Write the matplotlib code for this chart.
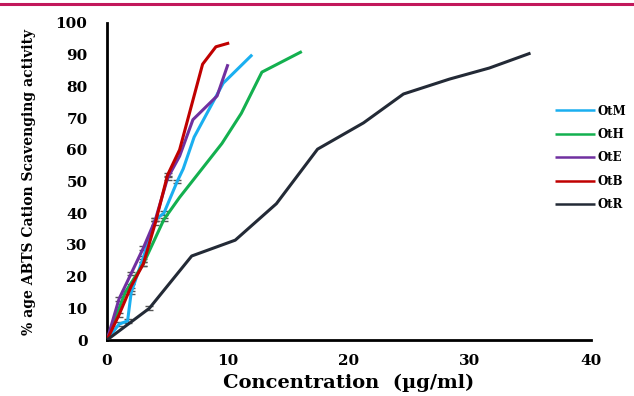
import numpy as np
import matplotlib.pyplot as plt
from matplotlib.lines import Line2D

# data
otm_x = [0, 1.0, 1.7, 2.0, 3.0, 4.0, 4.7, 5.8, 6.3, 7.2, 9.6, 12.0]
otm_y = [0, 5.0, 6.0, 15.0, 26.0, 38.0, 40.0, 50.0, 54.0, 64.0, 81.0, 90.0]
oth_x = [0, 1.5, 3.0, 4.7, 6.0, 9.5, 11.1, 12.8, 16.1]
oth_y = [0, 15.0, 24.0, 38.0, 45.0, 62.0, 71.5, 84.5, 91.0]
ote_x = [0, 1.0, 2.0, 3.0, 4.0, 5.0, 6.0, 7.1, 9.1, 10.0]
ote_y = [0, 13.0, 21.0, 29.0, 38.0, 51.0, 58.0, 69.5, 77.0, 87.0]
otb_x = [0, 1.0, 2.0, 3.0, 4.0, 5.0, 6.0, 7.9, 9.0, 10.1]
otb_y = [0, 8.0, 17.0, 24.0, 37.0, 52.0, 60.0, 87.0, 92.5, 93.7]
otr_x = [0, 3.5, 7.0, 10.6, 14.0, 17.4, 21.2, 24.5, 28.3, 31.6, 35.0]
otr_y = [0, 10.0, 26.5, 31.5, 43.0, 60.2, 68.5, 77.6, 82.3, 85.8, 90.5]

series = [
    ('OtM', otm_x, otm_y, '#1aaff0'),
    ('OtH', oth_x, oth_y, '#13b04f'),
    ('OtE', ote_x, ote_y, '#7030a0'),
    ('OtB', otb_x, otb_y, '#c00000'),
    ('OtR', otr_x, otr_y, '#232a36'),
]

plt.rcParams['font.family'] = ['DejaVu Serif']
plt.rcParams['font.weight'] = 'bold'

fig = plt.figure(figsize=(6.34, 3.96), dpi=100)
ax = fig.add_axes([107 / 634, 1 - 340 / 396, (591 - 107) / 634, (340 - 23) / 396])

# pink rule at the top of the figure
fig.add_artist(Line2D([0, 1], [1 - 4 / 396, 1 - 4 / 396], color='#c2185b', lw=2.2))

for name, xs, ys, col in series:
    ax.plot(xs, ys, color=col, lw=2.2, label=name, solid_capstyle='butt', zorder=3)
    # small error bars only at the low concentration points
    ex = [x for x in xs[1:] if x < 6]
    ey = [y for x, y in zip(xs[1:], ys[1:]) if x < 6]
    ax.errorbar(ex, ey, yerr=0.6, fmt='none', ecolor='#555555',
                elinewidth=0.8, capsize=3, capthick=1.0, zorder=2)

ax.set_xlim(0, 40)
ax.set_ylim(0, 100)
ax.set_xticks(np.arange(0, 41, 10))
ax.set_yticks(np.arange(0, 101, 10))
ax.tick_params(axis='y', length=0, labelsize=11, pad=14)
ax.tick_params(axis='x', length=0, labelsize=11, pad=10)
for lab in ax.get_xticklabels() + ax.get_yticklabels():
    lab.set_fontweight('bold')

for s in ['top', 'right']:
    ax.spines[s].set_visible(False)
for s in ['left', 'bottom']:
    ax.spines[s].set_linewidth(2)

ax.set_xlabel('Concentration  (µg/ml)', fontsize=14, fontweight='bold', labelpad=4)
ax.set_ylabel('% age ABTS Cation Scavenging activity', fontsize=10, fontweight='bold', labelpad=14)

leg = fig.legend(loc='upper left', bbox_to_anchor=(544 / 634, 1 - 94 / 396), frameon=False,
                 fontsize=8.5, handlelength=3.4, handletextpad=0.2, labelspacing=0.88)
for t in leg.get_texts():
    t.set_fontweight('bold')
for h in leg.get_lines():
    h.set_linewidth(1.8)

fig.savefig('out.png', dpi=100)
